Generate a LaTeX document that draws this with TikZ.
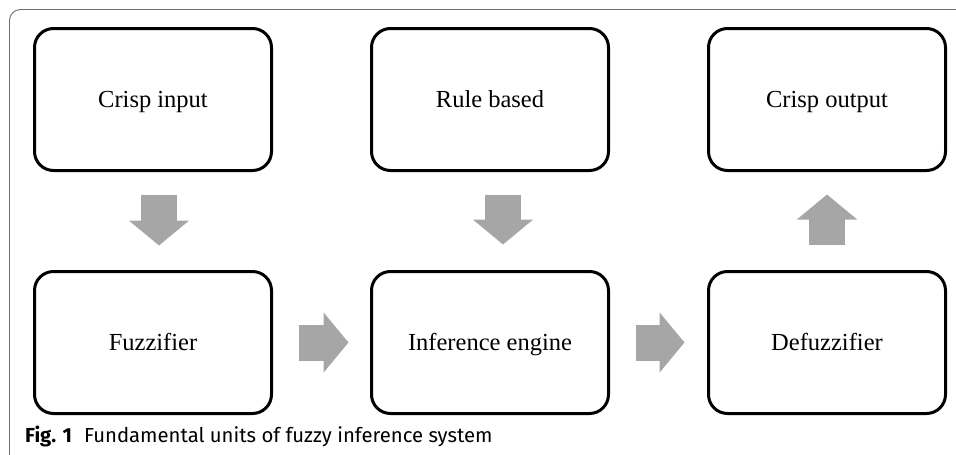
\documentclass[tikz,border=0pt]{standalone}
\usepackage{fontspec}
\setmainfont{Liberation Serif}
\newfontfamily\capfont{Fira Sans}
\usepackage{tikz}
\usetikzlibrary{positioning,arrows.meta,calc}
\definecolor{blockclr}{RGB}{166,166,166}
\definecolor{frameclr}{RGB}{110,110,110}
\tikzset{
  unitbox/.style={rectangle,draw=black,line width=3pt,rounded corners=19pt,
                  minimum width=237pt,minimum height=142pt,inner sep=0pt,
                  text height=16pt,text depth=0pt,
                  font=\fontsize{24.5}{29}\selectfont},
  blockarrow/.style={draw=blockclr,line width=36pt,
                     -{Triangle[length=25pt,width=59pt]}},
}

\begin{document}
\begin{tikzpicture}[x=1pt,y=-1pt,node distance=98pt and 97pt]
\useasboundingbox (0,0) rectangle (956,455);
% thin frame round the figure
\draw[frameclr,line width=0.9pt,rounded corners=11pt]
  (9.5,460) -- (9.5,9.5) -- (960,9.5);

% top row
\node[unitbox] (crisp) at (153,99.5) {Crisp input};
\node[unitbox,right=of crisp] (rule) {Rule based};
\node[unitbox,right=of rule] (output) {Crisp output};
% bottom row
\node[unitbox,below=of crisp] (fuzz) {Fuzzifier};
\node[unitbox,below=of rule] (infer) {Inference engine};
\node[unitbox,below=of output] (defuzz) {Defuzzifier};

% block arrows between the units
\draw[blockarrow,shorten <=22.5pt,shorten >=24.5pt]
  ([xshift=6pt]crisp.south) -- ([xshift=6pt]fuzz.north);
\draw[blockarrow,shorten <=22.5pt,shorten >=25.5pt]
  ([xshift=13pt]rule.south) -- ([xshift=13pt]infer.north);
\draw[blockarrow,shorten <=25.5pt,shorten >=22.5pt]
  (defuzz.north) -- (output.south);
\draw[blockarrow,shorten <=25.5pt,shorten >=21.5pt] (fuzz.east) -- (infer.west);
\draw[blockarrow,shorten <=25.5pt,shorten >=22.5pt] (infer.east) -- (defuzz.west);

\node[anchor=base west,inner sep=0pt,font=\capfont\fontsize{20.3}{24}\selectfont]
  (caption) at (25,442) {\textbf{Fig. 1}\hspace{12pt}Fundamental units of fuzzy inference system};
\end{tikzpicture}
\end{document}
